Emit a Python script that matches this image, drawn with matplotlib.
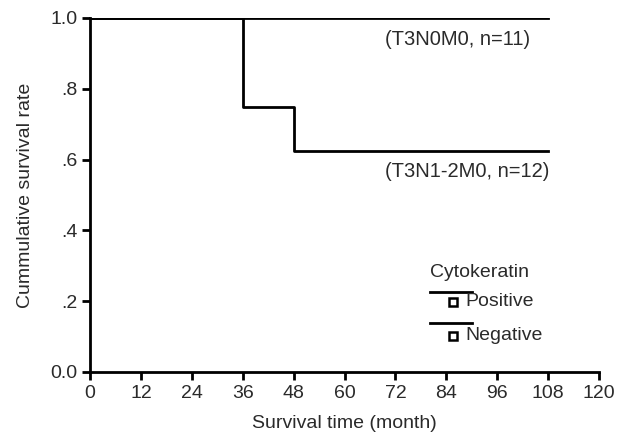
import matplotlib
matplotlib.use("Agg")
import matplotlib.pyplot as plt

plt.rcParams['font.family'] = ['Liberation Sans', 'DejaVu Sans']

# Data
n0_times = [0, 108]
n0_surv = [1.0, 1.0]
n12_times = [0, 36, 48, 108]
n12_surv = [1.0, 0.75, 0.625, 0.625]
xticks = [0, 12, 24, 36, 48, 60, 72, 84, 96, 108, 120]
yticks = [0.0, 0.2, 0.4, 0.6, 0.8, 1.0]
ytick_labels = ["0.0", ".2", ".4", ".6", ".8", "1.0"]
label_n0 = "(T3N0M0, n=11)"
label_n12 = "(T3N1-2M0, n=12)"
legend_title = "Cytokeratin"
legend_items = ["Positive", "Negative"]

TXT = '#2a2a2a'
FS = 14

fig = plt.figure(figsize=(6.27, 4.41), dpi=100)
ax = fig.add_axes([90/627, 1-372/441, 509/627, 354/441])

ax.step(n0_times, n0_surv, where='post', color='black', lw=2)
ax.step(n12_times, n12_surv, where='post', color='black', lw=2)

ax.set_xlim(0, 120)
ax.set_ylim(0, 1.0)
ax.set_xticks(xticks)
ax.set_xticklabels([str(t) for t in xticks])
ax.set_yticks(yticks)
ax.set_yticklabels(ytick_labels)

for s in ['top', 'right']:
    ax.spines[s].set_visible(False)
for s in ['left', 'bottom']:
    ax.spines[s].set_linewidth(2)
ax.tick_params(axis='both', direction='out', length=6, width=2, labelsize=FS,
               colors='black', labelcolor=TXT, pad=3)

ax.set_xlabel("Survival time (month)", fontsize=FS, color=TXT, labelpad=10)
ax.set_ylabel("Cummulative survival rate", fontsize=FS, color=TXT, labelpad=12)

ax.text(69.5, 0.938, label_n0, fontsize=FS + 0.5, va='center', ha='left', color=TXT)
ax.text(69.5, 0.565, label_n12, fontsize=FS + 0.5, va='center', ha='left', color=TXT)

# Legend
ax.text(80.2, 0.282, legend_title, fontsize=FS, va='center', ha='left', color=TXT)
for i, item in enumerate(legend_items):
    ly = 0.226 - i * 0.088
    my = 0.198 - i * 0.096
    ax.plot([80.2, 90.1], [ly, ly], color='black', lw=2, clip_on=False)
    ax.plot([85.6], [my], marker='s', ms=6, mfc='white', mec='black', mew=1.8, clip_on=False)
    ax.text(88.4, my, item, fontsize=FS, va='center', ha='left', color=TXT)

fig.savefig("out.png", dpi=100)
